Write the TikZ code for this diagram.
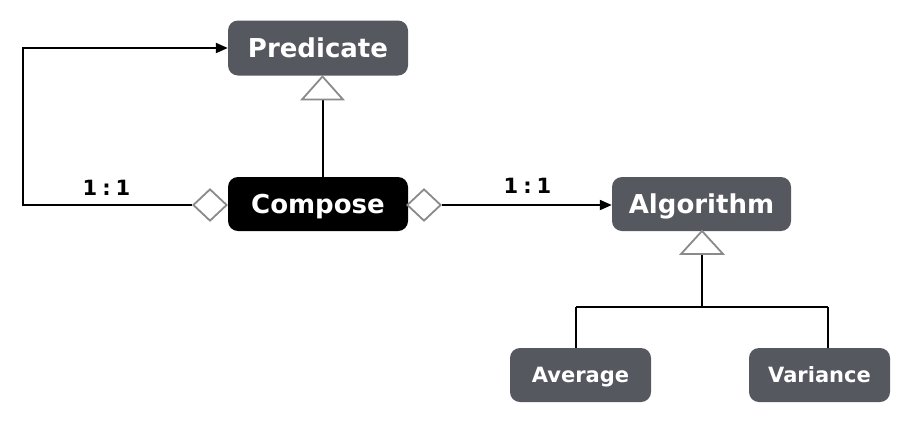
\documentclass[tikz,border=0pt]{standalone}
\usepackage{fontspec}
\setmainfont{DejaVu Sans}
\usetikzlibrary{arrows.meta,shapes.geometric,calc}
\definecolor{boxgray}{RGB}{85,88,95}
\definecolor{markgray}{RGB}{138,138,138}
\tikzset{
  cls/.style={rounded corners=10pt, fill=boxgray, text=white,
    font=\fontsize{26}{30}\selectfont\bfseries,
    minimum width=180pt, minimum height=55pt, inner sep=0pt,
    text height=19pt, text depth=0pt},
  smallcls/.style={cls, minimum width=141pt, minimum height=54pt,
    font=\fontsize{21}{25}\selectfont\bfseries, text height=15.3pt},
  conn/.style={line width=2pt, black},
  arr/.style={-{Triangle[length=12pt,width=10pt]}},
  umlmark/.style={draw=markgray, line width=1.8pt, fill=white, line join=miter},
  lbl/.style={font=\fontsize{21}{25}\selectfont\bfseries, inner sep=0pt,
    text height=15.3pt, text depth=0pt}
}
\begin{document}
\begin{tikzpicture}[x=1pt,y=-1pt]
\useasboundingbox (0,0) rectangle (910,424);
\fill[white] (0,0) rectangle (910,424);

% class nodes
\node[cls] (pred) at (318,48) {Predicate};
\node[cls, fill=black, minimum height=54pt] (comp) at (318,204) {Compose};
\node[cls, minimum width=179pt, minimum height=54pt] (alg) at (701.5,204) {Algorithm};
\node[smallcls] (avg) at (580.5,375) {Average};
\node[smallcls] (var) at (819.5,375) {Variance};

% diamonds
\node[umlmark, diamond, minimum width=34pt, minimum height=32pt, inner sep=0pt] (ldia) at (210,205) {};
\node[umlmark, diamond, minimum width=34pt, minimum height=32pt, inner sep=0pt] (rdia) at (424,205) {};

% labels
\node[lbl] (l1) at (106.5,187.5) {1\hspace{5pt}:\hspace{5pt}1};
\node[lbl] (l2) at (527.5,185.5) {1\hspace{5pt}:\hspace{5pt}1};

% helper coordinates
\coordinate (lc) at (23,205);
\coordinate (pt) at (322.5,76.5);
\coordinate (ptb) at (322.5,99.5);
\coordinate (at) at (702,231);
\coordinate (atb) at (702,254);
\coordinate (hb) at (702,307);
\coordinate (hl) at (576,307);
\coordinate (hr) at (828,307);

% connectors
\draw[conn, arr] (ldia.west) -- (lc) |- (pred.west);
\draw[conn, arr] (rdia.east) -- (rdia.east -| alg.west);
\draw[conn] (ptb |- comp.north) -- (ptb);
\draw[conn] (atb) -- (hb);
\draw[conn] (hl) -- (hr);
\draw[conn] (hl) -- (hl |- avg.north);
\draw[conn] (hr) -- (hr |- var.north);

% generalisation triangles
\draw[umlmark] (pt) -- ($(pt)+(20.5,23)$) -- ($(pt)+(-20.5,23)$) -- cycle;
\draw[umlmark] (at) -- ($(at)+(21,23)$) -- ($(at)+(-21,23)$) -- cycle;
\end{tikzpicture}
\end{document}
